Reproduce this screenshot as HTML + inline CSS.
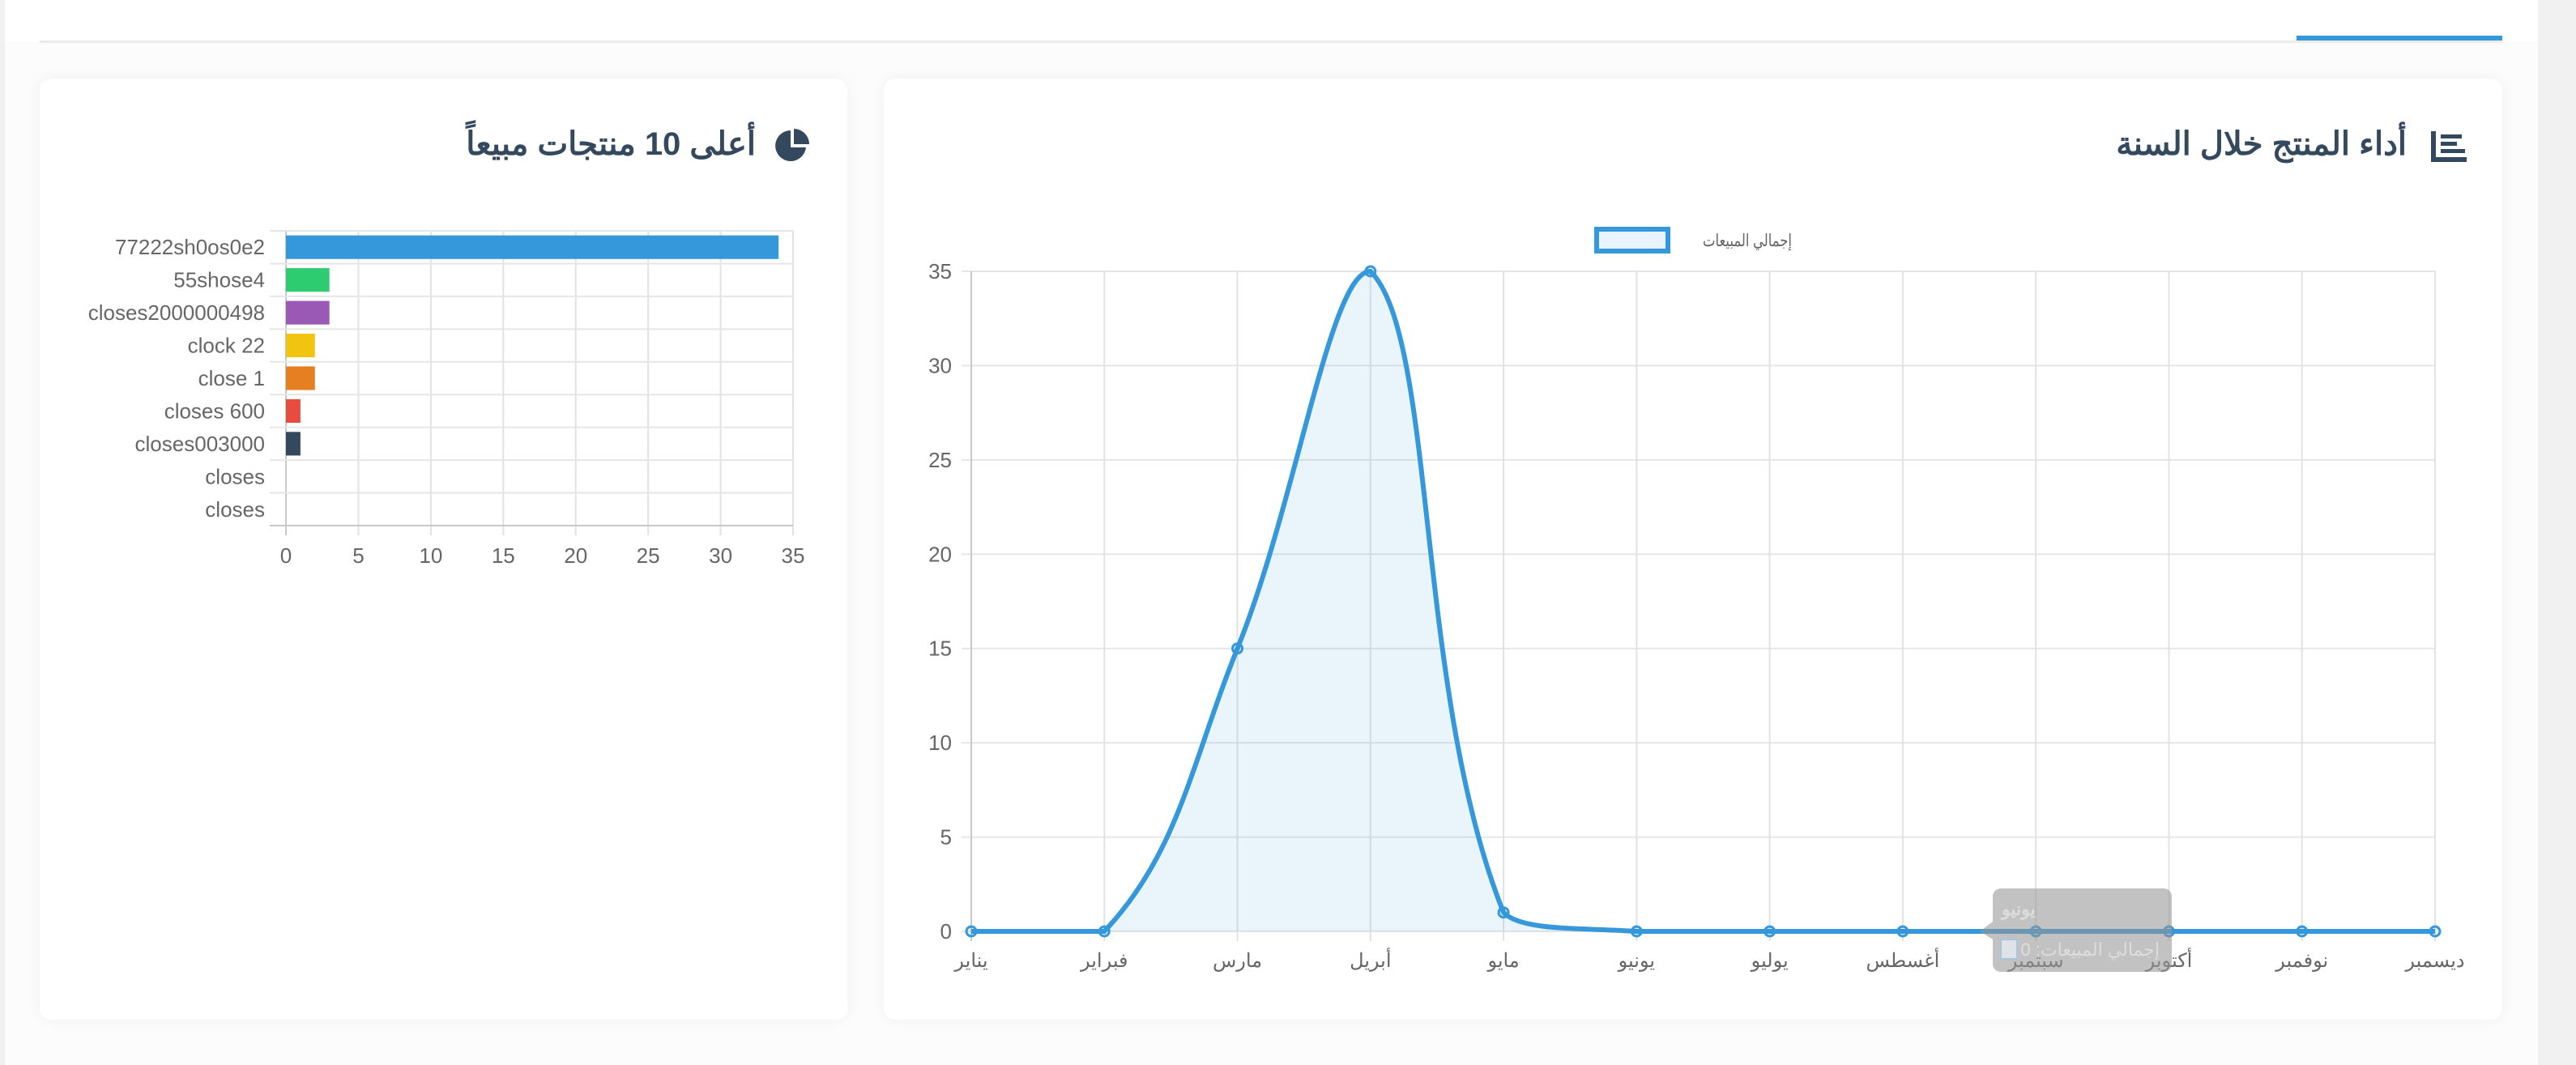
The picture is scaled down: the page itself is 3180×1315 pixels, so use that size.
<!DOCTYPE html>
<html><head><meta charset="utf-8">
<style>
html,body{margin:0;padding:0;width:3180px;height:1315px;overflow:hidden;background:#fcfcfd;font-family:"Liberation Sans","Noto Sans CJK SC",sans-serif}
.strip{position:absolute;left:3133px;top:0;width:47px;height:1315px;background:#f1f1f1}
.lstrip{position:absolute;left:0;top:0;width:6px;height:1315px;background:#f1f1f1}
.nav{position:absolute;left:6px;top:0;width:3127px;height:52px;background:#fff}
.navline{position:absolute;left:49px;top:50px;width:3040px;height:3px;background:#ebebeb}
.navact{position:absolute;left:2835px;top:44px;width:254px;height:6px;background:#3498db}
.card{position:absolute;background:#fff;border-radius:14px;box-shadow:0 0 18px rgba(0,0,0,0.05)}
.title{position:absolute;font-weight:bold;font-size:40px;color:#34495e;direction:rtl;white-space:nowrap}
svg text{font-family:"Liberation Sans","Noto Sans CJK SC",sans-serif}
</style></head><body>
<div class="lstrip"></div>
<div class="strip"></div>
<div class="nav"></div>
<div class="navline"></div>
<div class="navact"></div>

<div class="card" style="left:49px;top:97px;width:997px;height:1162px"></div>
<div class="card" style="left:1091px;top:97px;width:1998px;height:1162px"></div>

<div class="title" style="right:2247px;top:155px">أعلى 10 منتجات مبيعاً</div>
<svg style="position:absolute;left:955px;top:157px" width="46" height="46" viewBox="0 0 46 46">
<path d="M21 4 A19 19 0 1 0 40 25 L21 25 Z" fill="#34495e"/><path d="M25 2 A19 19 0 0 1 44 21 L25 21 Z" fill="#34495e"/></svg>
<div class="title" style="right:209px;top:155px">أداء المنتج خلال السنة</div>
<svg style="position:absolute;left:3001px;top:162px" width="46" height="40" viewBox="0 0 46 40">
<rect x="0" y="0" width="6" height="38" fill="#34495e"/><rect x="0" y="32" width="44" height="6" fill="#34495e"/>
<rect x="12" y="4" width="26" height="5" fill="#34495e"/><rect x="12" y="13" width="20" height="5" fill="#34495e"/><rect x="12" y="22" width="30" height="5" fill="#34495e"/></svg>

<svg id="bar" style="position:absolute;left:0;top:0" width="3180" height="1315"></svg>
<svg id="line" style="position:absolute;left:0;top:0" width="3180" height="1315"></svg>

<script>
const barCategories=["77222sh0os0e2","55shose4","closes2000000498","clock 22","close 1","closes 600","closes003000","closes","closes"];
const barValues=[34,3,3,2,2,1,1,0,0];
const barColors=["#3498db","#2ecc71","#9b59b6","#f1c40f","#e67e22","#e74c3c","#34495e","#1abc9c","#95a5a6"];
const barTicks=[0,5,10,15,20,25,30,35];

const months=["يناير","فبراير","مارس","أبريل","مايو","يونيو","يوليو","أغسطس","سبتمبر","أكتوبر","نوفمبر","ديسمبر"];
const sales=[0,0,15,35,1,0,0,0,0,0,0,0];
const yTicks=[0,5,10,15,20,25,30,35];

const NS="http://www.w3.org/2000/svg";
function mk(svg,tag,attrs,text){const e=document.createElementNS(NS,tag);for(const k in attrs)e.setAttribute(k,attrs[k]);if(text!==undefined)e.textContent=text;svg.appendChild(e);return e;}

// bar chart
(function(){
const svg=document.getElementById('bar');
const L=353,R=979,T=285,B=649,max=35;
const xs=v=>L+(R-L)*v/max;
const band=(B-T)/barCategories.length;
barTicks.forEach(t=>{
 const g=mk(svg,'line',{x1:xs(t),x2:xs(t),y1:T,y2:B+12,stroke:t===0?'#c8c8c8':'#e2e2e2','stroke-width':2});
 
 
 const l=mk(svg,'text',{x:xs(t),y:B+46,'text-anchor':'middle','font-size':26,fill:'#666'},t);
 
 
});
for(let i=0;i<=barCategories.length;i++){
 const g=mk(svg,'line',{x1:L-20,x2:R,y1:T+band*i,y2:T+band*i,stroke:i===barCategories.length?'#c8c8c8':'#e6e6e6','stroke-width':2});
 
 
}
barCategories.forEach((c,i)=>{
 const cy=T+band*(i+0.5);
 const l=mk(svg,'text',{x:L-26,y:cy+9,'text-anchor':'end','font-size':26,fill:'#666'},c);
 
 
 if(barValues[i]>0){
  const r=mk(svg,'rect',{x:xs(0),y:cy-band*0.36,width:xs(barValues[i])-xs(0),height:band*0.72,fill:barColors[i]});
  
  
 }
});
})();

// line chart
(function(){
const svg=document.getElementById('line');
const L=1199,R=3006,T=335,B=1150,max=35;
const xs=i=>L+(R-L)*i/(months.length-1);
const ys=v=>B-(B-T)*v/max;
yTicks.forEach(t=>{
 const g=mk(svg,'line',{x1:L-12,x2:R,y1:ys(t),y2:ys(t),stroke:'#e6e6e6','stroke-width':2});
 
 
 const l=mk(svg,'text',{x:L-24,y:ys(t)+9,'text-anchor':'end','font-size':26,fill:'#666'},t);
 
 
});
months.forEach((m,i)=>{
 const g=mk(svg,'line',{x1:xs(i),x2:xs(i),y1:T,y2:B+12,stroke:i===0?'#c8c8c8':'#e2e2e2','stroke-width':2});
 
 
 const l=mk(svg,'text',{x:xs(i),y:B+44,'text-anchor':'middle','font-size':24,fill:'#666'},m);
 
 
});
const pts=sales.map((v,i)=>({x:xs(i),y:ys(v)}));
const t=0.4,cps=[];
pts.forEach((p,i)=>{
 const pr=pts[i-1]||p,nx=pts[i+1]||p;
 const d01=Math.hypot(p.x-pr.x,p.y-pr.y),d12=Math.hypot(nx.x-p.x,nx.y-p.y);
 let s01=d01/(d01+d12)||0,s12=d12/(d01+d12)||0;
 const fa=t*s01,fb=t*s12;
 const cl=v=>Math.max(T,Math.min(B,v));
 cps.push({px:p.x-fa*(nx.x-pr.x),py:cl(p.y-fa*(nx.y-pr.y)),nx:p.x+fb*(nx.x-pr.x),ny:cl(p.y+fb*(nx.y-pr.y))});
});
let d='M'+pts[0].x+' '+pts[0].y;
for(let i=1;i<pts.length;i++){d+=` C${cps[i-1].nx} ${cps[i-1].ny} ${cps[i].px} ${cps[i].py} ${pts[i].x} ${pts[i].y}`;}
const area=mk(svg,'path',{d:d+` L${pts[pts.length-1].x} ${B} L${pts[0].x} ${B} Z`,fill:'rgba(52,152,219,0.1)'});


const ln=mk(svg,'path',{d:d,fill:'none',stroke:'#3498db','stroke-width':6});


pts.forEach((p,i)=>{
 const c=mk(svg,'circle',{cx:p.x,cy:p.y,r:6,fill:'rgba(52,152,219,0.1)',stroke:'#3498db','stroke-width':3});
 
 
});
// legend
const lb=mk(svg,'rect',{x:1971,y:283,width:88,height:27,fill:'#e8f3fb',stroke:'#3498db','stroke-width':6});


const lt=mk(svg,'text',{x:2212,y:304,'text-anchor':'end','font-size':21,fill:'#666',textLength:110,lengthAdjust:'spacingAndGlyphs'},'إجمالي المبيعات');


// tooltip
const tb=mk(svg,'path',{d:'M2470 1097 H2671 a10 10 0 0 1 10 10 V1190 a10 10 0 0 1 -10 10 H2470 a10 10 0 0 1 -10 -10 V1160 L2444 1150 L2460 1138 V1107 a10 10 0 0 1 10 -10 Z',fill:'rgba(150,150,150,0.58)'});


const t1=mk(svg,'text',{x:2471,y:1130,'font-size':22,'font-weight':'bold',fill:'#ddd'},'يونيو');


const ts=mk(svg,'rect',{x:2470,y:1160,width:20,height:24,fill:'#dfe3e6',stroke:'#a5c6dd','stroke-width':2});


const t2=mk(svg,'text',{x:2666,y:1180,'text-anchor':'end','font-size':22,fill:'#ddd'},'إجمالي المبيعات: 0');


})();
</script>
</body></html>
